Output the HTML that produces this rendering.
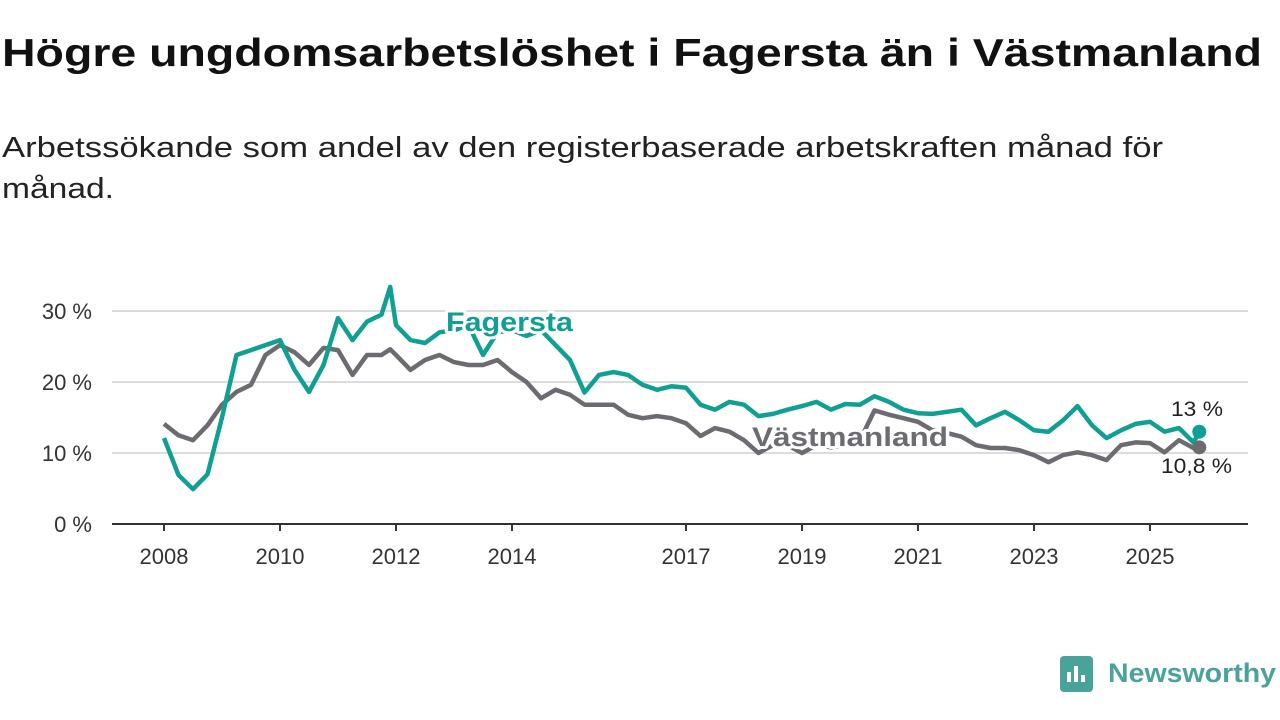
<!DOCTYPE html>
<html><head><meta charset="utf-8"><style>
body{margin:0;background:#fff;width:1280px;height:720px;overflow:hidden;font-family:"Liberation Sans","DejaVu Sans",sans-serif;}
svg{position:absolute;left:0;top:0}
</style></head><body>
<svg width="1280" height="720">
<text x="2" y="66" font-size="39" font-weight="bold" fill="#111" textLength="1260" lengthAdjust="spacingAndGlyphs">Högre ungdomsarbetslöshet i Fagersta än i Västmanland</text>
<text x="2" y="157" font-size="29" fill="#222" textLength="1161" lengthAdjust="spacingAndGlyphs">Arbetssökande som andel av den registerbaserade arbetskraften månad för</text>
<text x="2" y="198" font-size="29" fill="#222" textLength="112" lengthAdjust="spacingAndGlyphs">månad.</text>
<g id="grid"></g><g id="lines"></g><g id="labels"></g>
<g>
<rect x="1060" y="656" width="33" height="36" rx="4" fill="#4aa39a"/>
<rect x="1067" y="672" width="4" height="10" fill="#fff"/><rect x="1074" y="666" width="4" height="16" fill="#fff"/><rect x="1081" y="675" width="4" height="7" fill="#fff"/>
<text x="1108" y="682" font-size="27" font-weight="bold" fill="#4aa39a" textLength="168" lengthAdjust="spacingAndGlyphs">Newsworthy</text>
</g>
</svg>
<script>
const years=[2008,2010,2012,2014,2017,2019,2021,2023,2025];
const yTicks=[0,10,20,30];
const times=[];for(let i=0;i<72;i++)times.push(2008+i*0.25);times.push(2025.85);
times.splice(16,0,2011.9);
const fagersta=[12.1,6.9,4.9,7,15,23.8,24.5,25.2,25.9,21.7,18.6,22.4,29,25.9,28.5,29.5,33.4,28,25.9,25.5,27,27.3,28,23.8,27,27.3,26.5,27.3,25.2,23.1,18.5,21,21.4,21,19.6,18.9,19.4,19.2,16.8,16.1,17.2,16.8,15.2,15.5,16.1,16.6,17.2,16.1,16.9,16.8,18,17.2,16.1,15.6,15.5,15.8,16.1,13.9,14.9,15.8,14.6,13.2,13,14.6,16.6,13.9,12.1,13.2,14.1,14.4,13,13.5,11.5,13];
const vastmanland=[14.1,12.5,11.8,13.9,16.8,18.6,19.6,23.8,25.2,24.2,22.4,24.8,24.5,21,23.8,23.8,24.6,23.8,21.7,23.1,23.8,22.8,22.4,22.4,23.1,21.4,20,17.7,18.9,18.2,16.8,16.8,16.8,15.4,14.9,15.2,14.9,14.2,12.4,13.5,13,11.8,10,11.1,11.1,10,11.1,10.8,11.1,11.8,16,15.4,14.9,14.4,13.2,12.8,12.3,11.1,10.7,10.7,10.4,9.7,8.7,9.7,10.1,9.7,9,11.1,11.5,11.4,10.1,11.8,10.7,10.8];
const X=t=>164+(t-2008)*58, Y=v=>524-v*7.1;
const ns="http://www.w3.org/2000/svg";
function mk(tag,attrs,parent,txt){const e=document.createElementNS(ns,tag);for(const k in attrs)e.setAttribute(k,attrs[k]);if(txt!==undefined)e.textContent=txt;document.getElementById(parent).appendChild(e);return e;}
yTicks.forEach(v=>{
 if(v>0){const g=mk('line',{x1:112,x2:1248,y1:Y(v),y2:Y(v),stroke:'#dcdcdc','stroke-width':2},'grid');
 
 }
 const t=mk('text',{x:92,y:Y(v)+8,'font-size':22,fill:'#333','text-anchor':'end'},'grid',v+' %');
 
 
});
const ax=mk('line',{x1:112,x2:1248,y1:524,y2:524,stroke:'#333','stroke-width':2},'grid');


years.forEach(y=>{
 mk('line',{x1:X(y),x2:X(y),y1:524,y2:531,stroke:'#333','stroke-width':2},'grid');
 const t=mk('text',{x:X(y),y:564,'font-size':22,fill:'#333','text-anchor':'middle'},'grid',String(y));
 
 
});
function line(vals,col,name){
 const d=vals.map((v,i)=>(i?'L':'M')+X(times[i]).toFixed(1)+','+Y(v).toFixed(1)).join('');
 const p=mk('path',{d:d,fill:'none',stroke:col,'stroke-width':4.5,'stroke-linejoin':'round'},'lines');
 
 
}
line(vastmanland,'#6c6b72','vastmanland-line');
line(fagersta,'#0fa093','fagersta-line');
const n=times.length-1;
const d1=mk('circle',{cx:X(times[n]),cy:Y(vastmanland[n]),r:7,fill:'#6c6b72'},'lines');


const d2=mk('circle',{cx:X(times[n]),cy:Y(fagersta[n]),r:7,fill:'#0fa093'},'lines');


function lab(x,y,txt,col,sz,bold,name,len){
 const t=mk('text',{x:x,y:y,'font-size':sz,'font-weight':bold?'bold':'normal',fill:col,stroke:'#fff','stroke-width':6,'paint-order':'stroke','stroke-linejoin':'round',textLength:len,lengthAdjust:'spacingAndGlyphs'},'labels',txt);
 
 
}
lab(446,331,'Fagersta','#0fa093',27,true,'fagersta-label',127);
lab(752,446,'Västmanland','#6c6b72',27,true,'vastmanland-label',196);
lab(1171,416,'13 %','#222',21,false,'fagersta-end-value',52);
lab(1161,473,'10,8 %','#222',21,false,'vastmanland-end-value',71);
</script>
</body></html>
